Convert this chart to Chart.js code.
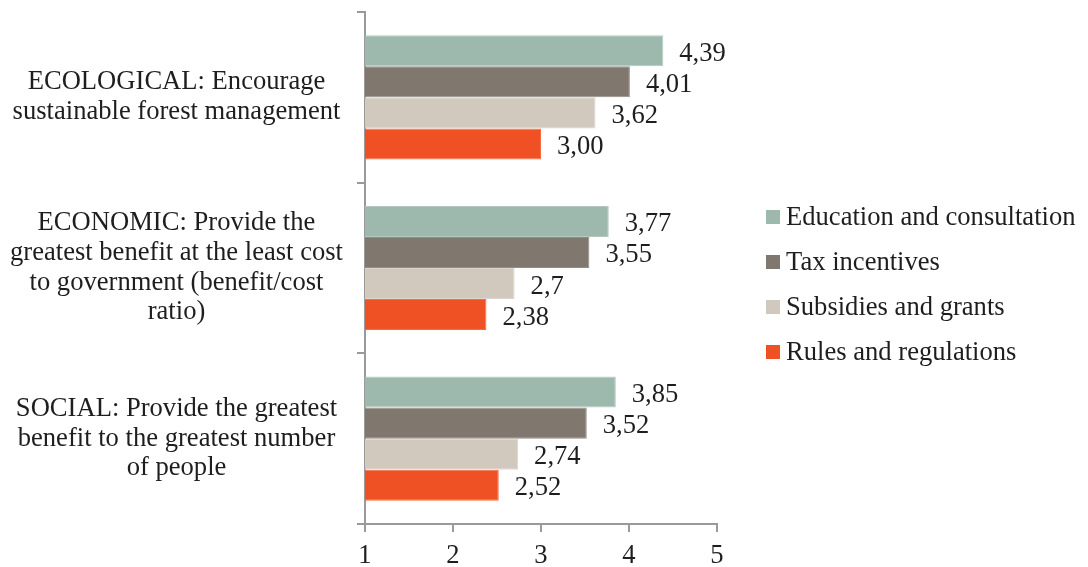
<!DOCTYPE html>
<html>
<head>
<meta charset="utf-8">
<script src="https://cdn.jsdelivr.net/npm/chart.js@4.4.1/dist/chart.umd.min.js"></script>
<style>
  html, body { margin: 0; padding: 0; background: #ffffff; }
  #wrap { width: 1088px; height: 567px; }
</style>
</head>
<body>
<div id="wrap"><canvas id="c" width="1088" height="567"></canvas></div>
<script>
// ---- data ----
const categories = [
  ['ECOLOGICAL: Encourage', 'sustainable forest management'],
  ['ECONOMIC: Provide the', 'greatest benefit at the least cost', 'to government (benefit/cost', 'ratio)'],
  ['SOCIAL: Provide the greatest', 'benefit to the greatest number', 'of people']
];
const seriesNames = ['Education and consultation', 'Tax incentives', 'Subsidies and grants', 'Rules and regulations'];
const education = ['4.39', '3.77', '3.85'];
const tax = ['4.01', '3.55', '3.52'];
const subsidies = ['3.62', '2.7', '2.74'];
const rules = ['3.00', '2.38', '2.52'];
const xTicks = [1, 2, 3, 4, 5];

// ---- styles ----
const fills = ['#9db9ae', '#80776e', '#d1c9be', '#f05124'];
const borders = ['#b3c9c0', '#958d85', '#ddd6cd', '#f36c45'];
const FONT = "'Liberation Serif', 'Times New Roman', serif";
const FS = 26.6;
const TXT = '#1e1e1e';
const AXIS = '#9a9a9a';

const seriesStrings = [education, tax, subsidies, rules];

const valueLabels = {
  id: 'valueLabels',
  afterDatasetsDraw(chart) {
    const ctx = chart.ctx;
    ctx.save();
    ctx.font = FS + 'px ' + FONT;
    ctx.fillStyle = TXT;
    ctx.textAlign = 'left';
    ctx.textBaseline = 'middle';
    chart.data.datasets.forEach((ds, di) => {
      const meta = chart.getDatasetMeta(di);
      meta.data.forEach((el, i) => {
        const txt = seriesStrings[di][i].replace('.', ',');
        ctx.fillText(txt, el.x + 16, el.y + 3);
      });
    });
    ctx.restore();
  }
};

const sideLegend = {
  id: 'sideLegend',
  afterDraw(chart) {
    const ctx = chart.ctx;
    ctx.save();
    ctx.font = FS + 'px ' + FONT;
    ctx.textAlign = 'left';
    ctx.textBaseline = 'middle';
    const x0 = 766, y0 = 217, step = 45, box = 14;
    chart.data.datasets.forEach((ds, i) => {
      const cy = y0 + i * step;
      ctx.fillStyle = ds.backgroundColor;
      ctx.fillRect(x0, cy - box / 2, box, box);
      ctx.fillStyle = TXT;
      ctx.fillText(ds.label, x0 + 20, cy + 1);
    });
    ctx.restore();
  }
};

new Chart(document.getElementById('c'), {
  type: 'bar',
  data: {
    labels: categories,
    datasets: seriesStrings.map((arr, i) => ({
      label: seriesNames[i],
      data: arr.map(Number),
      backgroundColor: fills[i],
      borderColor: borders[i],
      borderWidth: 1,
      borderSkipped: 'start',
      categoryPercentage: 0.728,
      barPercentage: 1.0
    }))
  },
  options: {
    indexAxis: 'y',
    responsive: false,
    animation: false,
    devicePixelRatio: 1,
    layout: { padding: { top: 12, right: 371, left: 0, bottom: 0 } },
    plugins: {
      legend: { display: false },
      tooltip: { enabled: false }
    },
    scales: {
      x: {
        min: 1,
        max: 5,
        afterBuildTicks(scale) { scale.ticks = xTicks.map(v => ({ value: v })); },
        afterFit(scale) { scale.height = 43; scale.paddingLeft = 0; scale.paddingRight = 0; },
        border: { display: true, color: AXIS, width: 2 },
        grid: { drawOnChartArea: false, color: AXIS, tickColor: AXIS, tickLength: 8, lineWidth: 2 },
        ticks: { color: TXT, font: { family: FONT, size: FS, lineHeight: 1.0 }, padding: 11, maxRotation: 0 }
      },
      y: {
        afterFit(scale) { scale.width = 365; scale.paddingTop = 0; scale.paddingBottom = 0; },
        border: { display: true, color: AXIS, width: 2 },
        grid: { drawOnChartArea: false, offset: true, color: AXIS, tickColor: AXIS, tickLength: 8, lineWidth: 2 },
        ticks: { color: TXT, font: { family: FONT, size: FS, lineHeight: 1.115 }, padding: 14, crossAlign: 'center', autoSkip: false }
      }
    }
  },
  plugins: [valueLabels, sideLegend]
});
</script>
</body>
</html>
